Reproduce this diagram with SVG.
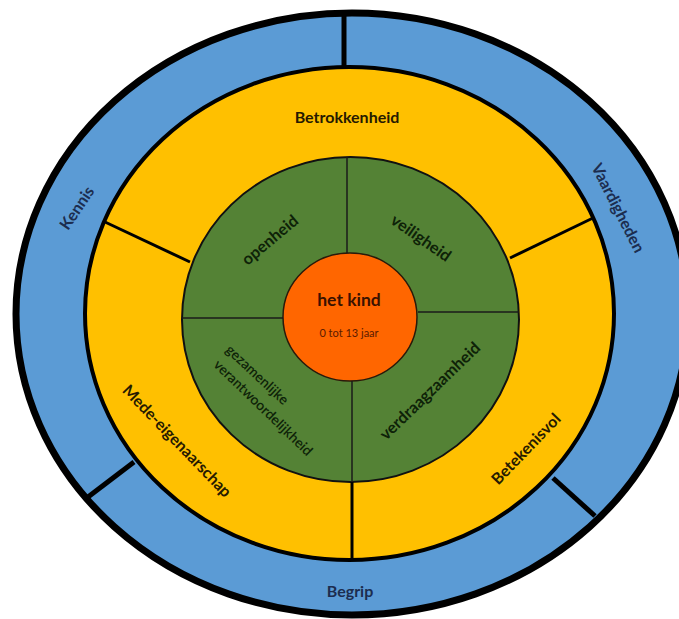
<svg xmlns="http://www.w3.org/2000/svg" width="679" height="619" viewBox="0 0 679 619">
<style>
.t{font-family:Lato,"Liberation Sans",sans-serif;font-weight:bold;text-anchor:middle}
.blue{fill:#1c2d4f;font-size:16px}
.yel{fill:#261a00;font-size:16px}
.grn{fill:#0e2208;font-size:16.3px}
.grn2{fill:#0e2208;font-size:14px;font-weight:600}
.d1{stroke:#000;stroke-width:5}
.d2{stroke:#000;stroke-width:3}
.d3{stroke:#1a1a1a;stroke-width:1.5}
</style>
<rect width="679" height="619" fill="#fff"/>
<g id="outer-ring">
<ellipse cx="352" cy="314" rx="336" ry="301" fill="#5b9bd5" stroke="#000" stroke-width="7"/>
</g>
<g id="middle-ring">
<ellipse cx="349.5" cy="313.5" rx="264.5" ry="246.5" fill="#ffc000" stroke="#000" stroke-width="4"/>
</g>
<g id="inner-ring">
<ellipse cx="350.5" cy="319.5" rx="168.5" ry="162.5" fill="#548235" stroke="#111" stroke-width="2"/>
</g>
<g id="center">
<ellipse cx="350" cy="317" rx="67" ry="64" fill="#ff6600" stroke="#2a1a0a" stroke-width="1.5"/>
<text class="t" x="349" y="306" fill="#3a1200" font-size="17.5">het kind</text>
<text x="349" y="337" fill="#5a1a00" font-size="11" font-family="Lato,'Liberation Sans',sans-serif" text-anchor="middle">0 tot 13 jaar</text>
</g>
<g id="connectors">
<line class="d1" x1="344" y1="15" x2="344" y2="67"/>
<line class="d1" x1="88" y1="497" x2="134" y2="462"/>
<line class="d1" x1="553" y1="478" x2="595" y2="516"/>
<line class="d2" x1="105" y1="222" x2="190" y2="262"/>
<line class="d2" x1="593" y1="218" x2="510" y2="258"/>
<line class="d2" x1="352" y1="482" x2="352" y2="560"/>
<line class="d3" x1="347" y1="157" x2="347" y2="253"/>
<line class="d3" x1="182" y1="318" x2="283" y2="318"/>
<line class="d3" x1="418" y1="312" x2="519" y2="312"/>
<line class="d3" x1="352" y1="381" x2="352" y2="482"/>
</g>
<g id="kennis"><text class="t blue" transform="translate(77,208) rotate(-56)" y="5.5">Kennis</text></g>
<g id="vaardigheden"><text class="t blue" transform="translate(618,208) rotate(63)" y="5.5">Vaardigheden</text></g>
<g id="begrip"><text class="t blue" x="350" y="597">Begrip</text></g>
<g id="betrokkenheid"><text class="t yel" x="347" y="123">Betrokkenheid</text></g>
<g id="mede-eigenaarschap"><text class="t yel" transform="translate(177,441) rotate(46)" y="5.5">Mede-eigenaarschap</text></g>
<g id="betekenisvol"><text class="t yel" transform="translate(526,449) rotate(-46)" y="5.5">Betekenisvol</text></g>
<g id="openheid"><text class="t grn" transform="translate(270,240) rotate(-40)" y="5.5">openheid</text></g>
<g id="veiligheid"><text class="t grn" transform="translate(421,238) rotate(35)" y="5.5">veiligheid</text></g>
<g id="verdraagzaamheid"><text class="t grn" transform="translate(430,391) rotate(-44)" y="5.5">verdraagzaamheid</text></g>
<g id="gezamenlijke-verantwoordelijkheid">
<text class="t grn2" transform="translate(257,375) rotate(43)" y="4.5">gezamenlijke</text>
<text class="t grn2" transform="translate(263,408) rotate(44)" y="4.5">verantwoordelijkheid</text>
</g>
</svg>
